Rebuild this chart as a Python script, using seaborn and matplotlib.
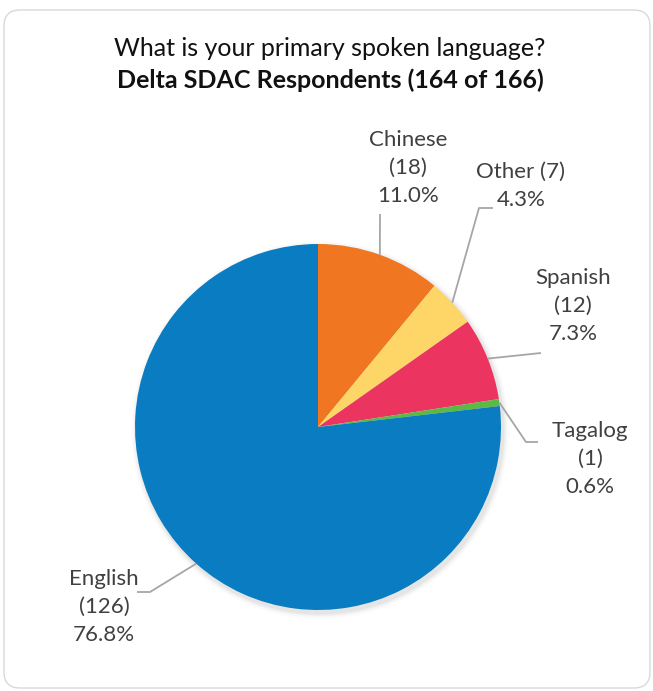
import numpy as np
import matplotlib
matplotlib.use("Agg")
import matplotlib.pyplot as plt
import seaborn as sns
from matplotlib.patches import FancyBboxPatch, Circle

# Survey answers, in the order they sit clockwise from 12 o'clock
languages = ["Chinese", "Other", "Spanish", "Tagalog", "English"]
counts = [18, 7, 12, 1, 126]
colors = ["#F07622", "#FDD667", "#EB3560", "#5DB946", "#0A7CC1"]
title_line1 = "What is your primary spoken language?"
title_line2 = "Delta SDAC Respondents (164 of 166)"

sns.set_theme(style="white")
plt.rcParams["font.family"] = ["Lato", "DejaVu Sans"]

W, H = 653, 691
fig = plt.figure(figsize=(W / 100, H / 100), dpi=100)
ax = fig.add_axes([0, 0, 1, 1])


def py(y):
    """Top-based pixel row to data y."""
    return H - y


# Rounded card behind the chart
card = FancyBboxPatch((4, py(688)), 646, 678,
                      boxstyle="round,pad=0,rounding_size=16",
                      fc="white", ec="#D9D9D9", lw=1.0, zorder=0)
ax.add_patch(card)

cx, cy, r = 318, py(427), 183

# Soft drop shadow under the pie
for k, a in zip([6, 4.5, 3, 1.5], [0.012, 0.02, 0.03, 0.04]):
    ax.add_patch(Circle((cx + 2, cy - 3), r + k, fc="black", alpha=a, lw=0, zorder=1))

wedges, _ = ax.pie(counts, colors=colors, startangle=90, counterclock=False,
                   radius=r, center=(cx, cy),
                   wedgeprops=dict(linewidth=0, zorder=2))
for w in wedges:
    w.set_zorder(2)

ax.set_xlim(0, W)
ax.set_ylim(0, H)
ax.set_aspect("equal")
ax.axis("off")

total = sum(counts)
label_pos = {
    "Chinese": (408, 168),
    "Other": (521, 186),
    "Spanish": (573, 306),
    "Tagalog": (590, 459),
    "English": (104, 607),
}
leader_bends = {
    "Chinese": [(380, 214)],
    "Other": [(479, 208), (493, 208)],
    "Spanish": [(541, 353)],
    "Tagalog": [(526, 442), (538, 442)],
    "English": [(150, 592), (137, 592)],
}

for w, lang, c in zip(wedges, languages, counts):
    pct = f"{c / total * 100:.1f}%"
    if lang == "Other":
        txt = f"{lang} ({c})\n{pct}"
    else:
        txt = f"{lang}\n({c})\n{pct}"
    lx, ly = label_pos[lang]
    ax.text(lx, py(ly), txt, ha="center", va="center", fontsize=16,
            color="#404040", linespacing=1.5, zorder=4)
    # leader line from the wedge's outer mid-point
    mid = np.deg2rad((w.theta1 + w.theta2) / 2)
    sx, sy = cx + r * np.cos(mid), cy + r * np.sin(mid)
    xs = [sx] + [p[0] for p in leader_bends[lang]]
    ys = [sy] + [py(p[1]) for p in leader_bends[lang]]
    ax.plot(xs, ys, color="#A6A6A6", lw=1.3, zorder=3, solid_capstyle="butt")

ax.text(330, py(48), title_line1, ha="center", va="center", fontsize=18, color="#111111")
ax.text(330, py(80), title_line2, ha="center", va="center", fontsize=18,
        fontweight="bold", color="#111111")

fig.savefig("out.png", dpi=100)
